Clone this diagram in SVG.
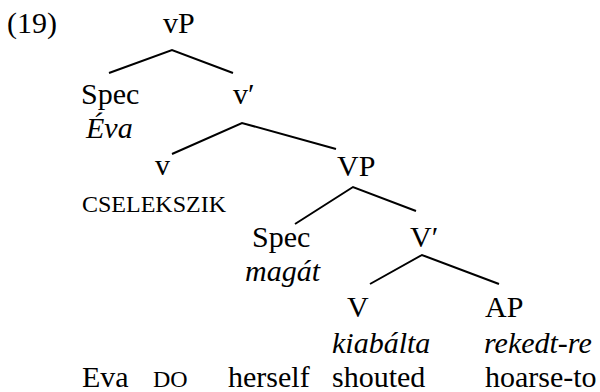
<svg xmlns="http://www.w3.org/2000/svg" width="600" height="392" viewBox="0 0 600 392" font-family="'Liberation Serif', 'DejaVu Serif', serif">
<style>
text{font-family:'Liberation Serif', serif;font-size:30px;fill:#000}
.it{font-style:italic}
.sc{font-size:24px}
.edge{fill:none;stroke:#000;stroke-width:2}
</style>
<rect width="600" height="392" fill="#fff"/>
<g id="connectors">
<polyline class="edge" points="109,73 172,50 233,73"/>
<polyline class="edge" points="172,154 242,123 336,149"/>
<polyline class="edge" points="295,224 353,187 416,211"/>
<polyline class="edge" points="370,284 422,255 499,284"/>
</g>
<g id="label19"><text x="7" y="33">(19)</text></g>
<g id="vP"><text x="163" y="33">vP</text></g>
<g id="spec1"><text x="81" y="104">Spec</text><text class="it" x="86" y="138">Éva</text></g>
<g id="vbar"><text x="233" y="104">v′</text></g>
<g id="v"><text x="155" y="175">v</text><text class="sc" x="82" y="212">CSELEKSZIK</text></g>
<g id="VP"><text x="337" y="176">VP</text></g>
<g id="spec2"><text x="252" y="247">Spec</text><text class="it" x="245" y="281">magát</text></g>
<g id="Vbar"><text x="410" y="247">V′</text></g>
<g id="V"><text x="347" y="317">V</text><text class="it" x="332" y="353">kiabálta</text></g>
<g id="AP"><text x="485" y="317">AP</text><text class="it" x="484" y="353">rekedt-re</text></g>
<g id="gloss">
<text x="82" y="387">Eva</text>
<text class="sc" x="153" y="387">DO</text>
<text x="228" y="387">herself</text>
<text x="332" y="387">shouted</text>
<text x="485" y="387">hoarse-to</text>
</g>
</svg>
